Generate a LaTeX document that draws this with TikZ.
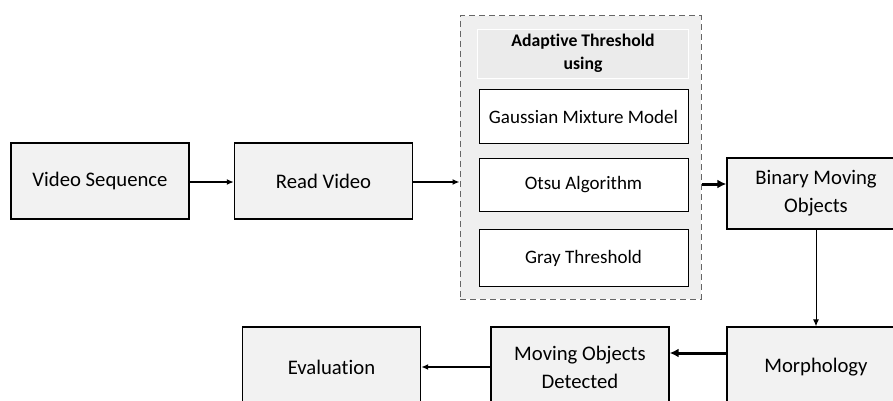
\documentclass[tikz,border=0pt]{standalone}
\usepackage{fontspec}
\setmainfont[Ligatures=NoCommon]{Carlito}
\usetikzlibrary{arrows.meta}
\definecolor{boxfill}{HTML}{F2F2F2}
\definecolor{dashfill}{HTML}{EFEFEF}
\definecolor{headfill}{HTML}{EBEBEB}
\tikzset{
  mainbox/.style={draw=black, line width=1.4pt, fill=boxfill, minimum width=178pt, minimum height=76pt, font=\fontsize{20.7}{28}\selectfont, align=center, inner sep=0pt},
  innerbox/.style={draw=black, line width=1pt, fill=white, minimum width=209pt, minimum height=53pt, font=\fontsize{19}{23}\selectfont, align=center, inner sep=0pt},
  flow/.style={-{Latex[length=7pt,width=6pt]}, line width=1.6pt},
  thickflow/.style={-{Latex[length=9pt,width=9pt]}, line width=3pt},
  thinflow/.style={-{Latex[length=7pt,width=6pt]}, line width=1pt},
}
\begin{document}
\begin{tikzpicture}[x=1pt,y=-1pt]
\useasboundingbox (0,0) rectangle (893,401);
\clip (0,0) rectangle (893,401);
\fill[white] (0,0) rectangle (893,401);
% dashed container
\node[draw=black!60, dash pattern=on 6pt off 4pt, line width=1pt, fill=dashfill, minimum width=241pt, minimum height=283pt, inner sep=0pt] (adapt) at (580.5,157.5) {};
\node[fill=headfill, draw=white, line width=0.8pt, minimum width=211pt, minimum height=49pt, inner sep=0pt, align=center, font=\bfseries\fontsize{17.7}{23}\selectfont] (head) at (583,53.5) {Adaptive Threshold\\using};
\node[innerbox] (gmm) at (583.5,116.5) {Gaussian Mixture Model};
\node[innerbox] (otsu) at (583.5,185) {Otsu Algorithm};
\node[innerbox, minimum height=57pt] (gray) at (583.5,258) {Gray Threshold};
% main boxes
\node[mainbox] (vs) at (100,181) {Video Sequence};
\node[mainbox] (rv) at (323.5,181) {Read Video};
\node[mainbox, minimum height=71pt] (bmo) at (816,193.5) {Binary Moving\\Objects};
\node[mainbox, minimum height=80pt] (morph) at (816,367) {Morphology};
\node[mainbox, minimum height=80pt] (mod) at (580,367) {Moving Objects\\Detected};
\node[mainbox, minimum height=80pt] (eval) at (331.5,367) {Evaluation};
% connectors
\draw[flow] (vs.east |- 0,182) -- (rv.west |- 0,182);
\draw[flow] (rv.east |- 0,182) -- (adapt.west |- 0,182);
\draw[thickflow] (adapt.east |- 0,184) -- (bmo.west |- 0,184);
\draw[thinflow] (bmo.south) -- (morph.north);
\draw[thickflow] (morph.west |- 0,353) -- (mod.east |- 0,353);
\draw[flow] (mod.west) -- (eval.east);
\end{tikzpicture}
\end{document}
